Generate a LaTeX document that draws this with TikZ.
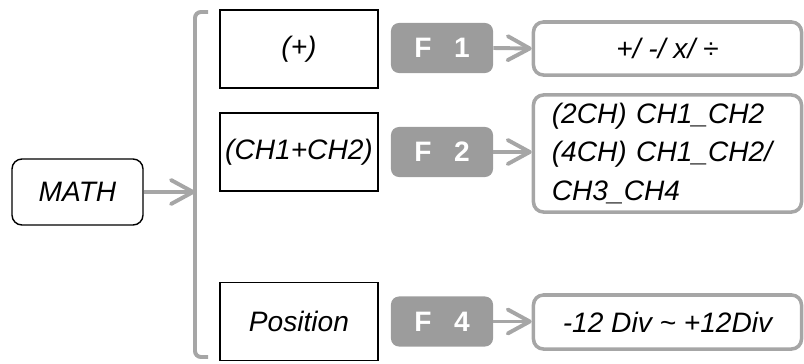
\documentclass[tikz,border=0pt]{standalone}
\usepackage{fontspec}
\setmainfont{Liberation Sans}
\usetikzlibrary{arrows.meta}
\definecolor{lightgraybox}{RGB}{166,166,166}
\definecolor{keygray}{RGB}{156,156,156}

\begin{document}
\begin{tikzpicture}[x=0.025cm, y=-0.025cm,
    every node/.style={font=\fontsize{20}{27.4}\selectfont\itshape, inner sep=0pt},
    blackbox/.style={draw=black, line width=1pt, minimum width=3.95cm, minimum height=1.95cm},
    keybox/.style={fill=keygray, rounded corners=0.2cm, minimum width=2.55cm, minimum height=1.25cm,
        text=white, font=\fontsize{20}{24}\selectfont\bfseries},
    valbox/.style={draw=lightgraybox, line width=2.5pt, rounded corners=0.25cm, minimum width=6.7cm},
    link/.style={draw=lightgraybox, line width=2.8pt, -{Straight Barb[length=0.55cm, width=0.6cm, round]}}
]
\useasboundingbox (0,0) rectangle (804,363);

% Menu key
\node[draw=black, line width=1pt, rounded corners=0.25cm, minimum width=3.275cm, minimum height=1.65cm]
    (math) at (77.5,192) {MATH};

% Bracket
\coordinate (brk) at (195,192);
\draw[lightgraybox, line width=2.8pt, rounded corners=0.15cm] (208,12) -- (195,12) -- (195,357) -- (208,357);
\draw[link] (math.east) -- (brk);

% Sources
\node[blackbox] (op)  at (299,49)    {(+)};
\node[blackbox] (src) at (299,152)   {(CH1+CH2)};
\node[blackbox] (pos) at (299,321.5) {Position};

% Function keys
\node[keybox] (f1) at (442,48)    {F\hspace{0.8em}1};
\node[keybox] (f2) at (442,152)   {F\hspace{0.8em}2};
\node[keybox] (f4) at (442,321.5) {F\hspace{0.8em}4};

% Values
\node[valbox, minimum height=1.325cm] (opval) at (667.5,48.5) {+/ -/ x/ ÷};
\node[valbox, minimum height=2.925cm, align=left, text width=5.78cm, inner xsep=0.46cm]
    (srcval) at (667.5,153.5) {(2CH) CH1\_CH2\\(4CH) CH1\_CH2/\\CH3\_CH4};
\node[valbox, minimum height=1.35cm] (posval) at (667.5,322) {-12 Div \textasciitilde{} +12Div};

\draw[link] (f1.east) -- (opval.west);
\draw[link] (f2.east) -- (srcval.west |- f2.east);
\draw[link] (f4.east) -- (posval.west |- f4.east);

\end{tikzpicture}
\end{document}
